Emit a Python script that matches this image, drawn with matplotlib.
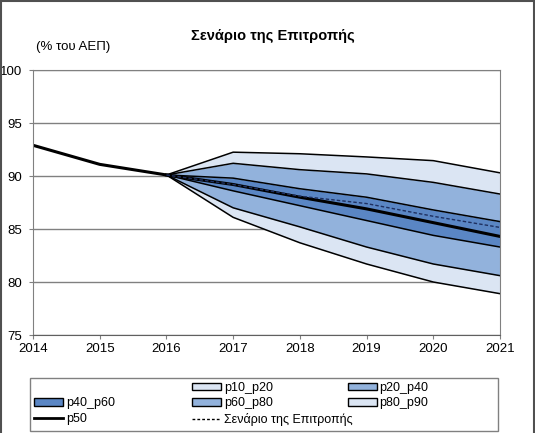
import numpy as np
import matplotlib.pyplot as plt
from matplotlib.patches import Rectangle, Patch
from matplotlib.lines import Line2D

plt.rcParams['font.family'] = ['Liberation Sans', 'DejaVu Sans']

years_hist = [2014, 2015, 2016]
debt_hist = [92.9, 91.1, 90.1]

years = [2016, 2017, 2018, 2019, 2020, 2021]
p10 = [90.1, 86.1, 83.7, 81.7, 80.0, 78.9]
p20 = [90.1, 87.0, 85.2, 83.3, 81.7, 80.6]
p40 = [90.1, 88.6, 87.2, 85.8, 84.4, 83.3]
p50 = [90.1, 89.2, 88.0, 86.9, 85.6, 84.3]
p60 = [90.1, 89.8, 88.8, 88.0, 86.8, 85.7]
p80 = [90.1, 91.2, 90.6, 90.2, 89.4, 88.3]
p90 = [90.1, 92.25, 92.1, 91.8, 91.45, 90.3]
commission = [90.1, 89.2, 88.1, 87.4, 86.2, 85.15]

light = '#dbe5f3'
mid = '#92b2dc'
dark = '#5a86c4'

fig = plt.figure(figsize=(5.35, 4.33), dpi=100)
ax = fig.add_axes([0.0617, 0.2263, 0.8729, 0.612])

ax.fill_between(years, p10, p20, color=light, lw=0)
ax.fill_between(years, p20, p40, color=mid, lw=0)
ax.fill_between(years, p40, p60, color=dark, lw=0)
ax.fill_between(years, p60, p80, color=mid, lw=0)
ax.fill_between(years, p80, p90, color=light, lw=0)
for s in [p10, p20, p40, p60, p80, p90]:
    ax.plot(years, s, color='black', lw=1.1)
ax.plot(years, p50, color='black', lw=2.2)
ax.plot(years_hist, debt_hist, color='black', lw=2.2)
ax.plot(years, commission, color='#1f3060', lw=1.0, ls=(0, (2.5, 1.5)))

ax.set_xlim(2014, 2021)
ax.set_ylim(75, 100)
ax.set_xticks(range(2014, 2022))
ax.set_yticks([75, 80, 85, 90, 95, 100])
ax.yaxis.grid(True, color='#808080', lw=1)
ax.set_axisbelow(True)
for sp in ax.spines.values():
    sp.set_color('#808080')
ax.spines['bottom'].set_color('#606060')
ax.tick_params(axis='both', labelsize=9.5, color='#808080', length=3)
ax.tick_params(axis='x', pad=3)
ax.tick_params(axis='y', pad=5)

fig.text(0.51, 0.918, 'Σενάριο της Επιτροπής', ha='center', va='center',
         fontsize=10.5, fontweight='bold')
fig.text(0.067, 0.892, '(% του ΑΕΠ)', ha='left', va='center', fontsize=9.5)

# legend: three single-column legends inside one drawn frame
cols = [
    ([Patch(facecolor='none', edgecolor='none'),
      Patch(facecolor=dark, edgecolor='black'),
      Line2D([], [], color='black', lw=2)],
     ['', 'p40_p60', 'p50'], 0.0636),
    ([Patch(facecolor=light, edgecolor='black'),
      Patch(facecolor=mid, edgecolor='black'),
      Line2D([], [], color='black', lw=1, ls=(0, (2, 1.5)))],
     ['p10_p20', 'p60_p80', 'Σενάριο της Επιτροπής'], 0.359),
    ([Patch(facecolor=mid, edgecolor='black'),
      Patch(facecolor=light, edgecolor='black')],
     ['p20_p40', 'p80_p90'], 0.650),
]
for h, l, x0 in cols:
    fig.legend(h, l, loc='upper left', bbox_to_anchor=(x0, 0.118),
               fontsize=9, frameon=False, borderpad=0, borderaxespad=0,
               handlelength=2.3, handleheight=0.6, handletextpad=0.25,
               labelspacing=0.28)

fig.patches.append(Rectangle((0.056, 0.0046), 0.875, 0.1224, transform=fig.transFigure,
                             fill=False, edgecolor='#808080', lw=1))
fig.patches.append(Rectangle((0.002, -0.01), 0.996, 1.008, transform=fig.transFigure,
                             fill=False, edgecolor='#505050', lw=1.5))

fig.savefig('out.png', dpi=100)
